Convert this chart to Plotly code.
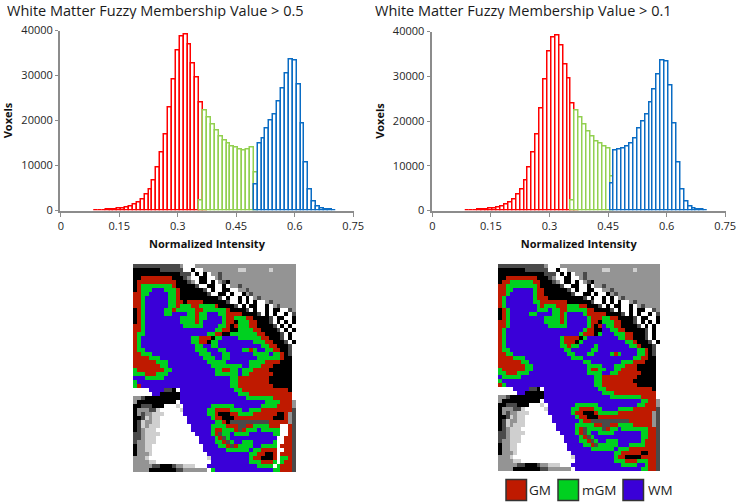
import plotly.graph_objects as go

# ---------- histogram data (bin centre -> voxels) ----------
red_x = [0.09,0.10,0.11,0.12,0.13,0.14,0.15,0.16,0.17,0.18,0.19,0.20,0.21,0.22,0.23,0.24,0.25,0.26,0.27,0.28,0.29,0.30,0.31,0.32,0.33,0.34,0.35,0.36,0.37]
red_y = [40,70,100,150,200,280,350,500,700,1000,1300,1800,2500,3500,4700,6700,9500,12900,17000,22900,29200,35500,38600,39200,36800,32600,29500,24000,900]

green_x_a = [0.36,0.37,0.38,0.39,0.40,0.41,0.42,0.43,0.44,0.45,0.46,0.47,0.48,0.49,0.50]
green_y_a = [2200,22300,20700,19200,17700,16500,15500,14900,14200,13900,13600,13400,13600,13900,8500]
blue_x_a = [0.50,0.51,0.52,0.53,0.54,0.55,0.56,0.57,0.58,0.59,0.60,0.61,0.62,0.63,0.64,0.65,0.66,0.67,0.68,0.69,0.70]
blue_y_a = [5800,14900,16000,18300,19900,21400,24200,27100,30500,33500,33300,28000,19400,10700,4700,2000,900,500,250,120,50]

green_x_b = [0.36,0.37,0.38,0.39,0.40,0.41,0.42,0.43,0.44,0.45,0.46]
green_y_b = [2200,22300,20700,19200,17700,16500,15500,14900,14200,13900,7700]
blue_x_b = [0.46,0.47,0.48,0.49,0.50,0.51,0.52,0.53,0.54,0.55,0.56,0.57,0.58,0.59,0.60,0.61,0.62,0.63,0.64,0.65,0.66,0.67,0.68,0.69,0.70]
blue_y_b = [6000,13400,13600,13900,14300,14900,16000,18300,19900,21400,24200,27100,30500,33500,33300,28000,19400,10700,4700,2000,900,500,250,120,50]

x_ticks = [0,0.15,0.3,0.45,0.6,0.75]
x_labels = ["0","0.15","0.3","0.45","0.6","0.75"]
y_ticks = [0,10000,20000,30000,40000]
titles = ["White Matter Fuzzy Membership Value > 0.5","White Matter Fuzzy Membership Value > 0.1"]
legend_names = ["GM","mGM","WM"]

# ---------- segmentation slices (one character per voxel) ----------
slice_a = [
"ddddddddddddgwwwgggggggggggggggggggggggggg",
"kkkkkkkddddddwwkwwgggggggggllgggggglgggggg",
"kkkkkkkkkkkkdddwkwkwggdggggggggggggggggggg",
"kkRRRRRRRRkkkdgwwkkwwgdggggggggggggggggggg",
"kRRRRRRRRRRkkkdgwkkwkwgdkggggggggggggggggg",
"kRMMMMMMMMRkkkkkdwwkkwwkwggdgggggggggggggg",
"kRMMMBBBMMMRkkkkkkdwkwwkkwwggdgggggggggggg",
"RRMMBBBBBMMRkkkkkkkdwwkkwkwwkgdggggggggggg",
"RRMBBBBBBMMRkkkkkkkkkkdwkwwkwkwgdggggggggg",
"RRMBBBBBBMMRRkRRRRkkkkkkdwwkwkwkwwgdgggggg",
"RRMBBBBBBMMRMMMRRMMMMRkkkkdwkwkkwwkwgdgggg",
"kRMBBBBBMMRMMMMMRRMMMMMMRkkkkdwkwwkwkkwwdg",
"kRMBBBBBMMBBBBMMRMMBBBMMRRRRkkkkdwkwkwwkwd",
"kRMBBBBBBBBBMMMMRMMBBBBMRRMMMRRkkkkdwkkwwk",
"kRMBBBBBBBBBMMMMRMBBBBBMRRkMMMRRkkkdwkwkwk",
"RRMBBBBBBBBBBMMMMMBBBBMMRkRMMMRRkkkkdwkwkw",
"RRMBBBBBBBBBBBBBBBBBBMMRRkkMMMMRRkkkkdwkwk",
"RMMBBBBBBBBBBBBBBBBMMRRkkMMMMMMMRRkkkkdwkw",
"RMBBBBBBBBBBBBBMMRRRkMMBBBBMMMMMMRRkkkdwkw",
"RMBBBBBBBBBBBBBMMRRkMMBBBBBBBBBMMMRRkkkdwk",
"RMBBBBBBBBBBBBBBMMBBMMBBBBBBBBBBBMMRRkkkdw",
"RMMBBBBBBBBBBBBBMMMBBBMMBBBBMMRMBBMMRRkkdw",
"RRMMMBBBBBBBBBBBBMMMBBBMMBBBBBBMMMMBMMRkdw",
"RRRRMMMBBBBBBBBBBBMMMBBMMBBBBBBBMMMMMMRkkw",
"RRRRRRMMMBBBBBBBBBBMMMMMBBBBBBMMMMRRRRkkkw",
"RRRRRRRMMBBBBBBBBBBBMMMMMMMMBBMMMRRRkkkkkw",
"MRRRRRRRMMBBBBBBBBBBBMMRRMMBMMMRRRRkkkkkkw",
"MMMRRRMMMBBBBBBBBBBBBMMMMMMBMMRRRRRRkkkkkw",
"BBBMMMMMBBBBBBBBBBBBBBBBBMMRRRRRRRRkkkkkkw",
"MBBBBBBBBBBBBBBBBBBBBBBBBMMRRRRRRRRkkkkkkw",
"MRBBBBBBBBBBBBBBBBBBBBBBBMMRRRRRRRRRkkkkkw",
"wwwwBBBBddkwBBBBBBBBBBBBBBMMRRRRRRRRRRRRkw",
"wwwwwBBkkkkkBBBBBBBBBBBBBBBMMMRRRRRRRRRRRw",
"ggdkkkkkkkkkBBBBBBBBBBBBBBBBBMMMMMMMRRRRRw",
"gkkkkkkkkkkwBBBBBBBBBBBBBBBBBBBBBBMMMMRRRg",
"kkdddkkkwwwlwBBBBBBBMMMMMMBBBBBBBMMMMRRRRg",
"kgggddlwwwwwlBBBBBBMMRRRRMMMBBMMMRRRRRRRRd",
"kgdgglllwwwwwBBBBBBMMRkkkRRMMMMRRRRRRkkRgd",
"kkdlgllwwwwwwwBBBBBBMRRkkkRRRRRRRRRRkkkRgd",
"kdlggllwwwwwwwBBBBBBBMMRkddddddddddRRRRRgd",
"kdlglllwwwwwwwwBBBBBMMMMRRRddRRMMMMRRRwwRd",
"kdglllwwwwwwwwwBBBBBMRRMMMRdRMMMBMMMMMwwRd",
"ddgllllwwwwwwwwwBBBBMRdMMBMMMMBBBBBBMMwwRd",
"ddglllwwwwwwwwwwwBBBBMRdMBBBBBBBBBBBBwwRRd",
"dgglllwwwwwwwwwwwBBBBMMRdMBBMMMBBBBBMwwRRd",
"kggllwwwwwwwwwwwwwBBBBMMRdRMMMMBBMMMMwRRRd",
"kggllwwwwwwwwwwwwwBBBBBBMMMMMMBMMRRRRwwRRd",
"kggglwwwwwwwwwwwwwwBBBBBBBBBBBMMRRkkRwRRRd",
"ggglwwwwwwwwwwwwwwwlBBBBBBBBBBMRRkkkRwMMRd",
"ggggllwwwwwwwwwwwwwwBBBBBBBBBBMMMRRRMwMRRd",
"gggggddkkkdgglllwwwBBBBBBBBBBBBBMMMMwMRRRd",
"ggggkkkkkkkddggggggwMBBBBBBBBBBBBBBBMMRRRd",
]

slice_b = [
"ddddddddddddgwwwgggggggggggggggggggggggggg",
"kkkkkkkddddddwwkwwgggggggggllgggggglgggggg",
"kkkkkkkkkkkkdddwkwkwggdggggggggggggggggggg",
"kkRRRRRRRRkkkdgwwkkwwgdggggggggggggggggggg",
"kRRMMMMMMRRkkkdgwkkwkwgdkggggggggggggggggg",
"RRMMMMMMMMRkkkkkdwwkkwwkwggdgggggggggggggg",
"RRMMBBBBBMRRkkkkkkdwkwwkkwwggdgggggggggggg",
"RRMBBBBBBMRRkkkkkkkdwwkkwkwwkgdggggggggggg",
"RMBBBBBBBMRRRkkkkkkkkkdwkwwkwkwgdggggggggg",
"RMBBBBBBBMMRRRRRRRkkkkkkdwwkwkwkwwgdgggggg",
"RMBBBBBBBBMRMMMRRRMMMRRkkkdwkwkkwwkwgdgggg",
"kRMBBBBBBBMMMBMMRRMMMMMRRkkkkdwkwwkwkkwwdg",
"kRMBBBBBMMBBBBMMRMBBBBMRRRRRkkkkdwkwkwwkwd",
"kRMBBBBBBBBBMMMMRMBBBBBMRRRMMRRkkkkdwkkwwk",
"RRMBBBBBBBBBMMMMRMBBBBBMRRkMMMRRkkkdwkwkwk",
"RRMBBBBBBBBBBMMMMMBBBBBMRkRBMMRRkkkkdwkwkw",
"RMBBBBBBBBBBBBBBBBBBBBMRRkkBBMMRRkkkkkdwkw",
"RMBBBBBBBBBBBBBBBBBBBMRRRkMBBBMMMRRkkkdwkw",
"RMBBBBBBBBBBBBBBMRRRRkMBBBBBBBBMMRRkkkdwkw",
"RMBBBBBBBBBBBBBBMRRRkMBBBBBBBBBBBMMRkkkdwk",
"RMBBBBBBBBBBBBBBMMRMMBBBBMBBBBBBBBMMRkkkdw",
"RMMBBBBBBBBBBBBBBMMBBBBBMMBBBBBBBBBBMMRkdw",
"RRMMBBBBBBBBBBBBBBMMBBBMMBBBBMRMBBBBMMRkdw",
"RRRRMMMBBBBBBBBBBBBMMMBBBBBBBBBBBBBMMRRkkw",
"RRRRRRMMBBBBBBBBBBBBBBMMBBBBBBBBMMMRRRkkkw",
"RRRRRRRMMBBBBBBBBBBBBBBMMMMBBBMMMRRRkkkkkw",
"MRRRRRRMMBBBBBBBBBBBBBBMRRMMBBMMRRRRkkkkkw",
"MMRRRMMMBBBBBBBBBBBBBBBMMMMBBMMRRRRRRkkkkw",
"BMMMMMBBBBBBBBBBBBBBBBBBBMMRRRRRRRRRkkkkkw",
"MBBBBBBBBBBBBBBBBBBBBBBBBMMRRRRRRRRkkkkkkw",
"RMBBBBBBBBBBBBBBBBBBBBBBBMMRRRRRRRRRkkkkkw",
"wwwwBBBBddkwBBBBBBBBBBBBBBMMRRRRRRRRRRRRkw",
"wwwwwBBkkkkkBBBBBBBBBBBBBBBMMMRRRRRRRRRRRw",
"ggdkkkkkkkkkBBBBBBBBBBBBBBBBBMMMMMMMMRRRRw",
"gkkkkkkkkkkwBBBBBBBBBBBBBBBBBBBBBBBBBMMRRg",
"kkdddkkkwwwlwBBBBBBBMMMMMMBBBBBBBBBBMMRRRg",
"kgggddlwwwwwlBBBBBBMMRRRRMMBBBBMMMMRRRRRRd",
"kgdgglllwwwwwBBBBBBMRRkkkRMMMMMRRRRRRRRRgd",
"kkdlgllwwwwwwwBBBBBBMRRkkkRRRRRRRRRRRRRRgd",
"kdlggllwwwwwwwBBBBBBBMRRddddddddddRRRRRRgd",
"kdlglllwwwwwwwwBBBBBMMMMMRRddRRMMMMRRRRRgd",
"kdglllwwwwwwwwwBBBBBMRdMMMMdRMMBMMMMMMMRRd",
"ddgllllwwwwwwwwwBBBBMRdMBBMMMMBBBBBBBMMRRd",
"ddglllwwwwwwwwwwwBBBBMRdMBBBBBBBBBBBBMMRRd",
"dgglllwwwwwwwwwwwBBBBMMRdMBBMMMBBBBBBMRRRd",
"kggllwwwwwwwwwwwwwBBBBMMRdMMMMMBBBMMMMRRRd",
"kggllwwwwwwwwwwwwwBBBBBBMMMMMMBMMMRRRRRRRd",
"kggglwwwwwwwwwwwwwwBBBBBBBBBBBMMRRRRRkkRRd",
"ggglwwwwwwwwwwwwwwwlBBBBBBBBBBMRRkkkkRRRRd",
"ggggllwwwwwwwwwwwwwwBBBBBBBBBBMMMRRRMMMRRd",
"gggggddkkkdgglllwwwBBBBBBBBBBBBBMMMMBBMRRd",
"ggggkkkkkkkddggggggwBBBBBBBBBBBBBBBBBMMRRd",
]

# ---------- styling ----------
W, H = 737, 504
RED, GREEN, BLUE = "#ff0000", "#92d050", "#0a6cc4"
AXIS = "#8c8c8c"; TXT = "#262626"
VOX = ["k","d","g","l","w","R","M","B"]
VOX_COL = ["#000000","#4a4a4a","#949494","#cfcfcf","#ffffff","#bf1a00","#00d020","#3a00d8"]

def xd(a,b): return [a/W, b/W]
def yd(top,bot): return [1-bot/H, 1-top/H]

fig = go.Figure()

def hist(idx, xdom, ydom, series):
    s = "" if idx == 1 else str(idx)
    for xs, ys, c in series:
        fig.add_trace(go.Bar(x=xs, y=ys, width=0.01, marker=dict(color="white", line=dict(color=c, width=1.5)),
                             xaxis="x"+s, yaxis="y"+s, showlegend=False))
    fig.layout["xaxis"+s] = dict(domain=xd(*xdom), range=[-0.002,0.752], tickvals=x_ticks, ticktext=x_labels, showgrid=False,
        zeroline=False, showline=True, linecolor=AXIS, linewidth=2, ticks="outside", ticklen=4, tickcolor=AXIS, anchor="y"+s,
        automargin=False, tickfont=dict(size=11, color=TXT, family="Open Sans"),
        title=dict(text="<b>Normalized Intensity</b>", standoff=9, font=dict(size=11, color="#111", family="Open Sans")))
    fig.layout["yaxis"+s] = dict(domain=yd(*ydom), range=[0,40000], tickvals=y_ticks, ticktext=[str(v) for v in y_ticks], showgrid=False,
        zeroline=False, showline=True, linecolor=AXIS, linewidth=2, ticks="outside", ticklen=3, tickcolor=AXIS, anchor="x"+s,
        automargin=False, tickfont=dict(size=11, color=TXT, family="Open Sans"),
        title=dict(text="<b>Voxels</b>", standoff=6, font=dict(size=11, color="#111", family="Open Sans")))

hist(1, (60,354), (30.5,210.5), [(red_x,red_y,RED),(green_x_a,green_y_a,GREEN),(blue_x_a,blue_y_a,BLUE)])
hist(2, (431.5,726), (31.5,210.5), [(red_x,red_y,RED),(green_x_b,green_y_b,GREEN),(blue_x_b,blue_y_b,BLUE)])

def brain(idx, rows, xdom, ydom):
    s = str(idx)
    z = [[VOX.index(ch) for ch in r.ljust(42, r[-1])[:42]] for r in rows]
    n = len(VOX)
    scale = []
    for i, c in enumerate(VOX_COL):
        scale += [[i/n, c], [(i+1)/n, c]]
    fig.add_trace(go.Heatmap(z=z, zmin=-0.5, zmax=n-0.5, colorscale=scale, showscale=False, xaxis="x"+s, yaxis="y"+s))
    fig.layout["xaxis"+s] = dict(domain=xd(*xdom), visible=False, anchor="y"+s, range=[-0.5,41.5])
    fig.layout["yaxis"+s] = dict(domain=yd(*ydom), visible=False, anchor="x"+s, range=[len(rows)-0.5,-0.5])

brain(3, slice_a, (133,296), (264,472))
brain(4, slice_b, (498,660), (264,471))

shapes, ann = [], []
for (x, t) in zip((4.5, 373), titles):
    ann.append(dict(text=t, x=x/W, y=1-9.5/H, xref="paper", yref="paper", xanchor="left", yanchor="middle", showarrow=False,
                    height=18, font=dict(size=14.5, color="#1a1a1a", family="Open Sans")))
for name, col, x0, x1, tx in zip(legend_names, ["#bf1a00","#00d020","#3a00d8"], (506,558,623), (526.5,578.5,643.5), (527,580,646)):
    shapes.append(dict(type="rect", xref="paper", yref="paper", x0=x0/W, x1=x1/W, y0=1-500.5/H, y1=1-479.5/H,
                       fillcolor=col, line=dict(color="#333333", width=1.5)))
    ann.append(dict(text=name, x=tx/W, y=1-490/H, xref="paper", yref="paper", xanchor="left", yanchor="middle", showarrow=False,
                    height=18, font=dict(size=13.5, color="#222", family="Open Sans")))

fig.update_layout(width=W, height=H, margin=dict(l=0,r=0,t=0,b=0), paper_bgcolor="white", plot_bgcolor="white",
                  barmode="overlay", bargap=0, shapes=shapes, annotations=ann, showlegend=False)

fig.write_html("out.html", config=dict(displayModeBar=False),
               post_script="document.body.style.margin='0';document.body.style.overflow='hidden';")
